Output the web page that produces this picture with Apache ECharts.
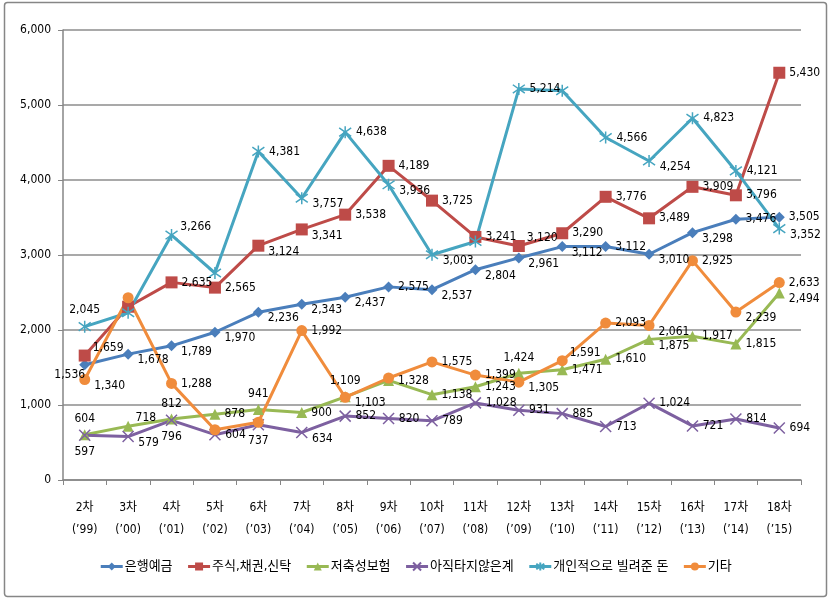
<!DOCTYPE html>
<html><head><meta charset="utf-8">
<script src="https://cdn.jsdelivr.net/npm/echarts@6/dist/echarts.min.js"></script>
<style>html,body{margin:0;padding:0;background:#fff}#c{width:831px;height:600px}</style>
</head><body><div id="c"></div>
<script>
const categories = ['2차','3차','4차','5차','6차','7차','8차','9차','10차','11차','12차','13차','14차','15차','16차','17차','18차'];
const years = ['(’99)','(’00)','(’01)','(’02)','(’03)','(’04)','(’05)','(’06)','(’07)','(’08)','(’09)','(’10)','(’11)','(’12)','(’13)','(’14)','(’15)'];
const seriesNames = ['은행예금','주식,채권,신탁','저축성보험','아직타지않은계','개인적으로 빌려준 돈','기타'];
const bank     = [1536,1678,1789,1970,2236,2343,2437,2575,2537,2804,2961,3112,3112,3010,3298,3476,3505];
const stocks   = [1659,2310,2635,2565,3124,3341,3538,4189,3725,3241,3120,3290,3776,3489,3909,3796,5430];
const savings  = [604,718,812,878,941,900,1109,1328,1138,1243,1424,1471,1610,1875,1917,1815,2494];
const gye      = [597,579,796,604,737,634,852,820,789,1028,931,885,713,1024,721,814,694];
const lent     = [2045,2230,3266,2760,4381,3757,4638,3936,3003,3180,5214,5190,4566,4254,4823,4121,3352];
const others   = [1340,2430,1288,670,770,1992,1103,1360,1575,1399,1305,1591,2093,2061,2925,2239,2633];
const yTicks = [0,1000,2000,3000,4000,5000,6000];

// label placement (style only; null = no label shown)
const labelPlace = [
  ['lb','rb','rb','rb','rb','rb','rb','r','rb','rb','rb','rb','r','rb','rb','r','r'],
  ['rt',null,'r','r','rb','rb','r','r','r','r','rt','r','r','r','r','r','r'],
  ['t','rt','t','r','t','r','t','r','r','r','t','r','r','rb','r','r','rb'],
  ['b','rb','b','r','b','rb','r','r','r','r','r','r','r','r','r','r','r'],
  ['t',null,'rt',null,'r','rb','r','rb','rb',null,'r',null,'r','rb','r','r','rb'],
  ['rb',null,'r',null,null,'r','rb',null,'r','r','rb','rt','r','rb','r','rb','r']
];
const colors = ['#4A7EBB','#BE4B48','#98B954','#7D60A0','#46A5C0','#F08C3C'];
const symbols = ['diamond','rect','triangle',
  'path://M0,0L10,10M10,0L0,10',
  'path://M5,0L5,10M0,1.5L10,8.5M10,1.5L0,8.5',
  'circle'];
const symbolSizes = [11,12,11,11,12,11];
const values = [bank,stocks,savings,gye,lent,others];

const numFmt = v => v.toLocaleString('en-US');
const font = "'Liberation Sans Narrow','DejaVu Sans Condensed','Noto Sans CJK KR',sans-serif";

function labelCfg(p){
  if(!p) return {show:false};
  const base = {show:true, color:'#000', fontSize:12, fontFamily:font, formatter:o=>numFmt(o.value)};
  switch(p){
    case 'r': return Object.assign(base,{position:'right',distance:4});
    case 'rb': return Object.assign(base,{position:'right',distance:4,offset:[0,6]});
    case 'rt': return Object.assign(base,{position:'right',distance:2,offset:[0,-8]});
    case 't': return Object.assign(base,{position:'top',distance:4});
    case 'b': return Object.assign(base,{position:'bottom',distance:4});
    case 'lb': return Object.assign(base,{position:'left',distance:0,offset:[6,10]});
  }
}

const series = values.map((arr,i)=>{
  const pathSym = symbols[i].startsWith('path');
  return {
    name: seriesNames[i], type:'line', symbol: symbols[i], symbolSize: symbolSizes[i],
    showAllSymbol:true,
    lineStyle:{width:3,color:colors[i]},
    itemStyle: pathSym ? {color:colors[i], borderColor:colors[i], borderWidth:1.5} : {color:colors[i]},
    emphasis:{disabled:true},
    data: arr.map((v,j)=>({value:v, label: labelCfg(labelPlace[i][j])}))
  };
});

const chart = echarts.init(document.getElementById('c'));
chart.setOption({
  animation:false,
  color: colors,
  graphic:[{type:'rect', shape:{x:4.5,y:2.5,width:822,height:594,r:3}, style:{fill:'none',stroke:'#868686',lineWidth:1.5}, silent:true}],
  legend:{
    bottom: 22, left:'center', itemWidth:22, itemHeight:10, itemGap:14,
    lineStyle:{width:3},
    textStyle:{fontSize:13, fontFamily:font, color:'#000', padding:[0,0,0,-3]},
    data: seriesNames
  },
  grid:{left:63, right:30, top:30, bottom:120, containLabel:false},
  xAxis:{
    type:'category', data: categories, boundaryGap:true,
    axisLine:{lineStyle:{color:'#868686',width:1.5}},
    axisTick:{show:true, length:5, lineStyle:{color:'#868686'}},
    axisLabel:{color:'#000', fontSize:12, fontFamily:font, margin:17, lineHeight:22,
      formatter:(v,idx)=> v + '\n' + years[idx]}
  },
  yAxis:{
    type:'value', min:yTicks[0], max:yTicks[yTicks.length-1], interval:1000,
    axisLine:{show:true, lineStyle:{color:'#868686',width:1.5}},
    axisTick:{show:true, length:5, lineStyle:{color:'#868686'}},
    splitLine:{lineStyle:{color:'#8C8C8C',width:1.5}},
    axisLabel:{color:'#000', fontSize:12, fontFamily:font, margin:12, formatter:v=>numFmt(v)}
  },
  series: series
});
</script></body></html>
